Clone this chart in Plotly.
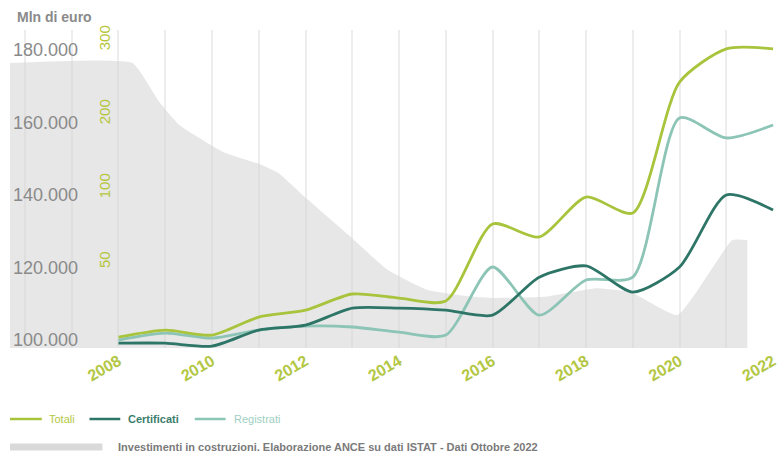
import numpy as np
import plotly.graph_objects as go

# ---------------- data ----------------
years = list(range(2008, 2023))
totali = [6.3, 10.4, 7.5, 18.0, 22.0, 31.4, 29.0, 27.3, 75.7, 66.9, 93.9, 83.1, 243, 288, 288]
certificati = [2.8, 2.8, 1.1, 10.4, 13.3, 23.2, 23.2, 22.0, 19.1, 41.2, 47.7, 32.5, 47.1, 95.3, 85.1]
registrati = [4.6, 8.6, 5.7, 10.4, 12.7, 12.2, 9.2, 7.5, 47.1, 19.1, 39.5, 41.2, 194.6, 167.6, 185.1]

# investimenti in costruzioni (mln di euro)
inv_x = [2005.68, 2008.30, 2008.87, 2009.30, 2010.08, 2010.29, 2011.06, 2011.42, 2012.06,
         2012.97, 2013.76, 2014.61, 2015.46, 2016.09, 2017.09, 2018.22, 2018.96, 2019.96,
         2021.13, 2021.45]
inv_y = [176400, 176400, 165700, 159300, 153000, 151600, 148300, 146100, 138600,
         128400, 119300, 113800, 112100, 111600, 111900, 114300, 113200, 106900,
         127600, 127600]

left_ticks = [100000, 120000, 140000, 160000, 180000]
left_ticktext = ["100.000", "120.000", "140.000", "160.000", "180.000"]
right_ticktext = ["50", "100", "200", "300"]
right_tickvals_real = [50, 100, 200, 300]
x_ticks = [2008, 2010, 2012, 2014, 2016, 2018, 2020, 2022]

# secondary scale (non-linear as drawn in the original): value -> axis unit
scale_vals = [0, 50, 100, 200, 300]
scale_units = [-0.162, 1, 2, 3, 4]
def to_unit(v):
    return list(np.interp(v, scale_vals, scale_units))

W, H = 779, 456
PL, PR, PT, PB = 10, 779, 30, 348          # plot area in pixels
ML, MR, MT, MB = PL, W - PR, PT, H - PB
PW, PH = PR - PL, PB - PT
def px(X):
    return (X - PL) / PW
def py(Y):
    return (PB - Y) / PH

C_TOT = "#a8c43c"
C_CER = "#2d7566"
C_REG = "#8cc4b6"

fig = go.Figure()
fig.add_trace(go.Scatter(x=inv_x, y=inv_y, mode="lines", line=dict(width=0, shape="spline", smoothing=0.4),
                         fill="tozeroy", fillcolor="rgba(214,214,214,0.58)", hoverinfo="skip",
                         showlegend=False))
for vals, col, nm in [(registrati, C_REG, "Registrati"), (certificati, C_CER, "Certificati"),
                      (totali, C_TOT, "Totali")]:
    fig.add_trace(go.Scatter(x=years, y=to_unit(vals), yaxis="y2", mode="lines", name=nm,
                             line=dict(color=col, width=2.8, shape="spline", smoothing=0.7),
                             showlegend=False))

fig.update_layout(
    width=W, height=H, margin=dict(l=ML, r=MR, t=MT, b=MB),
    paper_bgcolor="white", plot_bgcolor="white",
    font=dict(family="Liberation Sans, Arial, sans-serif"),
    xaxis=dict(range=[2005.68, 2022.02], tickvals=x_ticks, tickangle=-30,
               tickfont=dict(size=16, color="#b3c744", weight="bold"),
               ticklabeloverflow="allow",
               showgrid=True, gridcolor="#ededed", gridwidth=1.5,
               minor=dict(dtick=1, tick0=2008, showgrid=True, gridcolor="#ededed", gridwidth=1.5),
               zeroline=False, showline=False, ticks=""),
    yaxis=dict(range=[97790, 185520], tickvals=left_ticks, ticktext=left_ticktext,
               ticklabelposition="inside", ticklabeloverflow="allow",
               tickfont=dict(size=18, color="#8a8a8a"),
               showgrid=False, zeroline=False, showline=False, ticks=""),
    yaxis2=dict(overlaying="y", side="left", anchor="free", position=px(114),
                range=[-0.162, 4.135], tickvals=to_unit(right_tickvals_real), ticktext=right_ticktext,
                tickangle=-90, tickfont=dict(size=15, color="#b5c63a"), ticklabeloverflow="allow",
                showgrid=False, zeroline=False, showline=False, ticks=""),
    showlegend=False,
)

ann = [
    dict(x=px(15), y=py(17), text="Mln di euro", font=dict(size=14, color="#8a8a8a", weight="bold")),
    dict(x=px(47), y=py(419), text="Totali", font=dict(size=11, color="#b3c744")),
    dict(x=px(127), y=py(419), text="Certificati", font=dict(size=11, color="#3b7d6b", weight="bold")),
    dict(x=px(233), y=py(419), text="Registrati", font=dict(size=11, color="#9fcfc3")),
    dict(x=px(117), y=py(447), text="Investimenti in costruzioni. Elaborazione ANCE su dati ISTAT - Dati Ottobre 2022",
         font=dict(size=11, color="#7a7a7a", weight="bold")),
]
for a in ann:
    a.update(xref="paper", yref="paper", xanchor="left", yanchor="middle", showarrow=False)
fig.update_layout(annotations=ann)

shapes = [
    dict(type="line", x0=px(10), x1=px(42), y0=py(419), y1=py(419), line=dict(color=C_TOT, width=2.5)),
    dict(type="line", x0=px(90), x1=px(121), y0=py(419), y1=py(419), line=dict(color=C_CER, width=2.5)),
    dict(type="line", x0=px(196), x1=px(227), y0=py(419), y1=py(419), line=dict(color=C_REG, width=2.5)),
    dict(type="rect", x0=px(10), x1=px(103), y0=py(443.5), y1=py(450.5), fillcolor="#d9d9d9", line=dict(width=0)),
]
for s in shapes:
    s.update(xref="paper", yref="paper")
fig.update_layout(shapes=shapes)

fig.write_html("out.html", config={"displayModeBar": False},
               post_script="document.body.style.margin='0';document.body.style.overflow='hidden';")
